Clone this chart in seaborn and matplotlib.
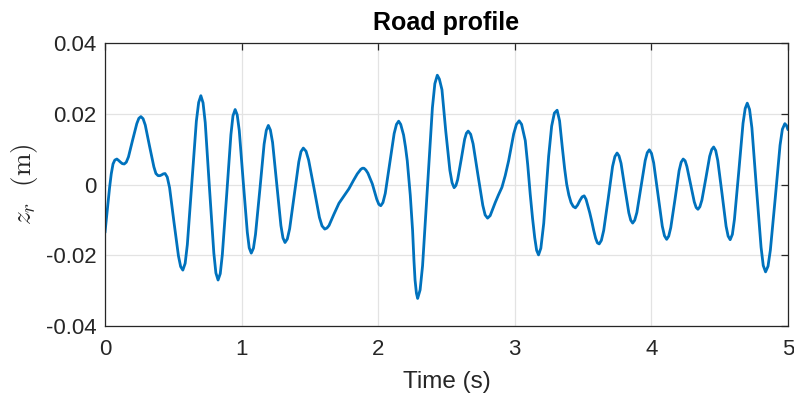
import matplotlib
matplotlib.use("Agg")
import matplotlib.pyplot as plt
import seaborn as sns
import pandas as pd

# road profile: time (s) and elevation z_r (m)
time_s = [
    0.000, 0.008, 0.015, 0.025, 0.034, 0.046, 0.059, 0.072, 0.087, 0.100,
    0.114, 0.127, 0.141, 0.156, 0.172, 0.202, 0.233, 0.248, 0.263, 0.279,
    0.295, 0.326, 0.358, 0.373, 0.389, 0.402, 0.414, 0.427, 0.440, 0.456,
    0.473, 0.505, 0.538, 0.554, 0.570, 0.587, 0.603, 0.636, 0.669, 0.686,
    0.702, 0.718, 0.734, 0.765, 0.797, 0.812, 0.828, 0.844, 0.859, 0.891,
    0.922, 0.937, 0.953, 0.968, 0.983, 1.012, 1.042, 1.056, 1.071, 1.087,
    1.102, 1.134, 1.165, 1.181, 1.196, 1.211, 1.227, 1.257, 1.288, 1.303,
    1.318, 1.335, 1.352, 1.385, 1.419, 1.435, 1.452, 1.472, 1.491, 1.531,
    1.570, 1.589, 1.609, 1.625, 1.640, 1.675, 1.713, 1.750, 1.786, 1.820,
    1.847, 1.873, 1.885, 1.896, 1.910, 1.925, 1.957, 1.990, 2.005, 2.019,
    2.035, 2.052, 2.085, 2.117, 2.134, 2.150, 2.165, 2.186, 2.200, 2.213,
    2.224, 2.235, 2.252, 2.262, 2.270, 2.280, 2.289, 2.307, 2.325, 2.361,
    2.397, 2.415, 2.433, 2.448, 2.467, 2.495, 2.510, 2.525, 2.541, 2.556,
    2.569, 2.582, 2.608, 2.633, 2.646, 2.659, 2.677, 2.695, 2.730, 2.766,
    2.783, 2.801, 2.820, 2.840, 2.857, 2.880, 2.906, 2.930, 2.955, 2.975,
    2.992, 3.012, 3.032, 3.050, 3.077, 3.095, 3.113, 3.130, 3.146, 3.160,
    3.174, 3.191, 3.212, 3.230, 3.248, 3.270, 3.290, 3.310, 3.328, 3.348,
    3.365, 3.380, 3.396, 3.412, 3.428, 3.444, 3.460, 3.477, 3.493, 3.508,
    3.522, 3.535, 3.549, 3.563, 3.578, 3.592, 3.605, 3.618, 3.634, 3.651,
    3.684, 3.716, 3.733, 3.749, 3.763, 3.778, 3.806, 3.835, 3.849, 3.863,
    3.878, 3.894, 3.924, 3.955, 3.970, 3.985, 4.001, 4.017, 4.049, 4.080,
    4.096, 4.112, 4.127, 4.142, 4.173, 4.203, 4.218, 4.233, 4.247, 4.260,
    4.287, 4.314, 4.328, 4.341, 4.355, 4.370, 4.399, 4.427, 4.442, 4.456,
    4.471, 4.486, 4.517, 4.547, 4.562, 4.577, 4.593, 4.608, 4.640, 4.671,
    4.687, 4.702, 4.719, 4.736, 4.769, 4.803, 4.819, 4.836, 4.854, 4.871,
    4.907, 4.942, 4.959, 4.977, 4.989, 5.000,
]
z_r = [
    -0.0136, -0.0105, -0.0080, -0.0042, -0.0008, 0.0030, 0.0058, 0.0069, 0.0072, 0.0068,
    0.0063, 0.0059, 0.0058, 0.0063, 0.0078, 0.0125, 0.0172, 0.0187, 0.0192, 0.0186,
    0.0168, 0.0109, 0.0050, 0.0031, 0.0025, 0.0025, 0.0027, 0.0030, 0.0031, 0.0021,
    -0.0009, -0.0106, -0.0202, -0.0232, -0.0242, -0.0223, -0.0170, 0.0005, 0.0179, 0.0232,
    0.0251, 0.0231, 0.0175, -0.0010, -0.0194, -0.0250, -0.0270, -0.0252, -0.0199, -0.0029,
    0.0141, 0.0194, 0.0212, 0.0197, 0.0153, 0.0009, -0.0135, -0.0179, -0.0194, -0.0180,
    -0.0141, -0.0014, 0.0114, 0.0153, 0.0167, 0.0154, 0.0119, 0.0002, -0.0116, -0.0151,
    -0.0164, -0.0154, -0.0125, -0.0031, 0.0064, 0.0093, 0.0103, 0.0094, 0.0069, -0.0012,
    -0.0093, -0.0117, -0.0126, -0.0123, -0.0116, -0.0085, -0.0053, -0.0032, -0.0012, 0.0012,
    0.0030, 0.0043, 0.0046, 0.0046, 0.0041, 0.0032, 0.0002, -0.0042, -0.0056, -0.0060,
    -0.0051, -0.0025, 0.0060, 0.0144, 0.0170, 0.0179, 0.0170, 0.0140, 0.0106, 0.0067,
    0.0020, -0.0030, -0.0130, -0.0215, -0.0270, -0.0307, -0.0322, -0.0298, -0.0230, -0.0007,
    0.0217, 0.0285, 0.0309, 0.0298, 0.0268, 0.0150, 0.0094, 0.0040, 0.0005, -0.0009,
    -0.0003, 0.0014, 0.0071, 0.0128, 0.0145, 0.0151, 0.0142, 0.0115, 0.0028, -0.0059,
    -0.0086, -0.0095, -0.0088, -0.0068, -0.0051, -0.0030, -0.0008, 0.0025, 0.0067, 0.0108,
    0.0143, 0.0170, 0.0180, 0.0170, 0.0124, 0.0055, -0.0027, -0.0095, -0.0150, -0.0186,
    -0.0199, -0.0180, -0.0110, -0.0015, 0.0080, 0.0165, 0.0202, 0.0210, 0.0180, 0.0105,
    0.0045, 0.0001, -0.0030, -0.0051, -0.0062, -0.0066, -0.0058, -0.0045, -0.0035, -0.0032,
    -0.0042, -0.0060, -0.0080, -0.0103, -0.0130, -0.0152, -0.0165, -0.0168, -0.0158, -0.0130,
    -0.0040, 0.0051, 0.0079, 0.0089, 0.0081, 0.0060, -0.0010, -0.0080, -0.0101, -0.0109,
    -0.0101, -0.0079, -0.0006, 0.0068, 0.0090, 0.0098, 0.0088, 0.0061, -0.0029, -0.0118,
    -0.0145, -0.0155, -0.0146, -0.0122, -0.0042, 0.0039, 0.0063, 0.0072, 0.0067, 0.0051,
    0.0001, -0.0049, -0.0065, -0.0070, -0.0063, -0.0044, 0.0018, 0.0080, 0.0099, 0.0106,
    0.0096, 0.0068, -0.0025, -0.0118, -0.0146, -0.0156, -0.0141, -0.0099, 0.0037, 0.0173,
    0.0215, 0.0230, 0.0212, 0.0160, -0.0009, -0.0177, -0.0229, -0.0247, -0.0231, -0.0186,
    -0.0038, 0.0111, 0.0156, 0.0172, 0.0167, 0.0155,
]

yticks = [-0.04, -0.02, 0, 0.02, 0.04]
ytick_labels = ["-0.04", "-0.02", "0", "0.02", "0.04"]
xticks = [0, 1, 2, 3, 4, 5]

sns.set_style("white")
plt.rcParams["font.family"] = ["Liberation Sans", "DejaVu Sans"]
plt.rcParams["mathtext.fontset"] = "cm"

df = pd.DataFrame({"t": time_s, "z": z_r})

fig = plt.figure(figsize=(7.94, 3.97), dpi=100)
ax = fig.add_axes([0.1322, 0.1788, 0.8602, 0.7129])

sns.lineplot(data=df, x="t", y="z", ax=ax, color="#0072BD", linewidth=2.0,
             sort=False, solid_joinstyle="round", solid_capstyle="round")

ax.set_xlim(0, 5)
ax.set_ylim(-0.04, 0.04)
ax.set_xticks(xticks)
ax.set_xticklabels([str(x) for x in xticks])
ax.set_yticks(yticks)
ax.set_yticklabels(ytick_labels)

ax.grid(True, color="#e3e3e3", linewidth=0.9)
ax.set_axisbelow(True)
for s in ax.spines.values():
    s.set_color("#262626")
    s.set_linewidth(0.9)
    s.set_visible(True)
ax.tick_params(direction="in", length=5, width=0.9, colors="#262626",
               labelsize=16, top=True, right=True)
ax.tick_params(axis="x", pad=9)
ax.tick_params(axis="y", pad=6)

ax.set_xlabel("Time (s)", fontsize=17.5, color="#262626", labelpad=8)
ax.set_ylabel(r"$z_r\ \ (\mathrm{m})$", fontsize=19.5, color="#262626", labelpad=4)
ax.set_title("Road profile", fontsize=18, fontweight="bold", color="black", pad=9)

fig.savefig("out.png", dpi=100)
